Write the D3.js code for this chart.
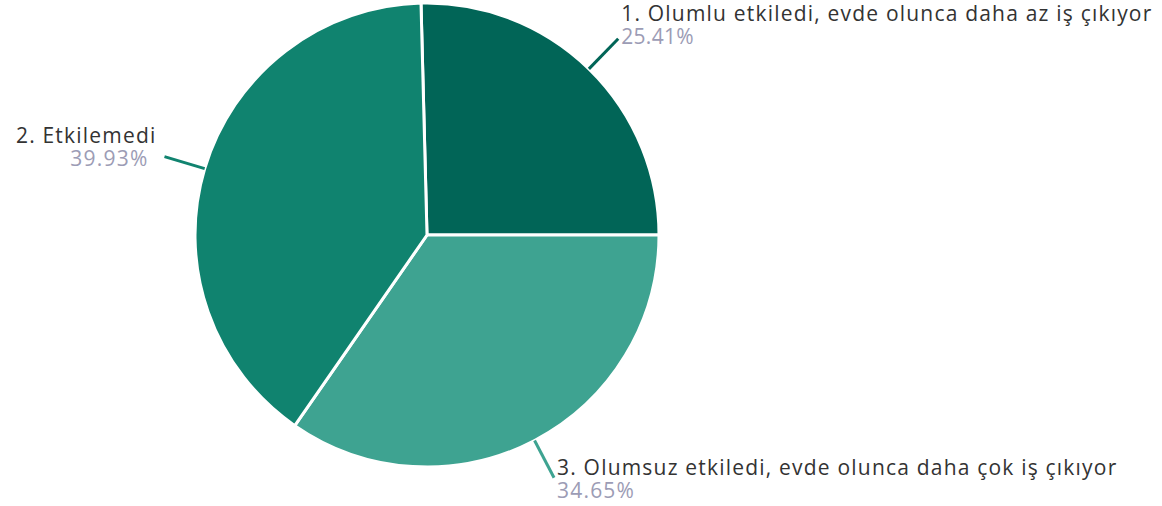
<!DOCTYPE html>
<html>
<head>
<meta charset="utf-8">
<script src="https://cdn.jsdelivr.net/npm/d3@7"></script>
<style>
  body { margin: 0; background: #fff; }
  text { font-family: "Open Sans", sans-serif; }
</style>
</head>
<body>
<div class="svg-target"></div>
<script>
const labels = [
    '1. Olumlu etkiledi, evde olunca daha az iş çıkıyor',
    '3. Olumsuz etkiledi, evde olunca daha çok iş çıkıyor',
    '2. Etkilemedi'
];
const values = [25.41, 34.65, 39.93];
const colors = ['#016557', '#3ea391', '#10836f'];

const w = 1162;
const h = 506;
const cx = 427;
const cy = 235;
const radius = 232;

const svg = d3.select('.svg-target')
    .append('svg')
    .attr('width', w)
    .attr('height', h);

const g = svg.append('g')
    .attr('transform', `translate(${cx}, ${cy})`);

// first slice ends exactly at 3 o'clock
const total = d3.sum(values);
const start = Math.PI / 2 - values[0] / total * 2 * Math.PI;

const pie = d3.pie()
    .sort(null)
    .value(d => d)
    .startAngle(start)
    .endAngle(start + 2 * Math.PI);

const arcs = pie(values);

const arc = d3.arc()
    .innerRadius(0)
    .outerRadius(radius);

g.selectAll('path')
    .data(arcs)
    .enter()
    .append('path')
        .attr('d', arc)
        .attr('fill', (d, i) => colors[i])
        .attr('stroke', '#fff')
        .attr('stroke-width', 3);

// label lines + labels
arcs.forEach((d, i) => {
    const mid = (d.startAngle + d.endAngle) / 2;
    const a = [radius * Math.sin(mid), -radius * Math.cos(mid)];
    const b = [(radius + 42) * Math.sin(mid), -(radius + 42) * Math.cos(mid)];

    g.append('line')
        .attr('x1', a[0]).attr('y1', a[1])
        .attr('x2', b[0]).attr('y2', b[1])
        .attr('stroke', colors[i])
        .attr('stroke-width', 3);

    const right = Math.sin(mid) > 0;
    const tx = b[0] + (right ? 3 : -8);
    const ty = b[1] - 11 - 9 * Math.cos(mid);

    const t = g.append('text')
        .attr('x', tx)
        .attr('y', ty)
        .attr('text-anchor', right ? 'start' : 'end')
        .style('font-size', '21px');

    t.append('tspan')
        .attr('x', tx)
        .attr('fill', '#333')
        .style('letter-spacing', '1.2px')
        .text(labels[i]);

    t.append('tspan')
        .attr('x', right ? tx : tx - 8)
        .attr('dy', 23)
        .attr('fill', '#9c9cb5')
        .style('letter-spacing', i === 0 ? '0.3px' : '1.2px')
        .text(values[i].toFixed(2) + '%');
});
</script>
</body>
</html>
